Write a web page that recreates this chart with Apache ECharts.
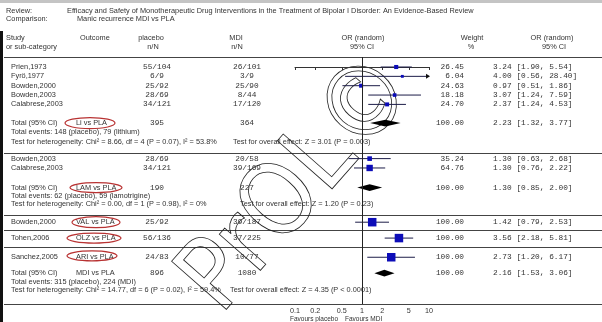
<!DOCTYPE html>
<html>
<head>
<meta charset="utf-8">
<script src="https://cdn.jsdelivr.net/npm/echarts@6/dist/echarts.min.js"></script>
<style>
  html, body { margin: 0; padding: 0; background: #fff; }
  #chart { width: 602px; height: 322px; }
</style>
</head>
<body>
<div id="chart"></div>
<script>
// studies, in plot order
const studyNames = ['Prien,1973', 'Fyrö,1977', 'Bowden,2000', 'Bowden,2003', 'Calabrese,2003',
  'Bowden,2003', 'Calabrese,2003', 'Bowden,2000', 'Tohen,2006', 'Sanchez,2005']
const studyOutcome = ['', '', '', '', '', '', '', 'VAL vs PLA', 'OLZ vs PLA', 'ARI vs PLA']
const placeboNN = ['55/104', '6/9', '25/92', '28/69', '34/121', '28/69', '34/121', '25/92', '56/136', '24/83']
const mdiNN = ['26/101', '3/9', '25/90', '8/44', '17/120', '20/58', '39/169', '39/187', '37/225', '10/77']
const studyOR = [3.24, 4.00, 0.97, 3.07, 2.37, 1.30, 1.30, 1.42, 3.56, 2.73]
const studyLo = [1.90, 0.56, 0.51, 1.24, 1.24, 0.63, 0.76, 0.79, 2.18, 1.20]
const studyHi = [5.54, 28.40, 1.86, 7.59, 4.53, 2.68, 2.22, 2.53, 5.81, 6.17]
const studyWeight = [26.45, 6.04, 24.63, 18.18, 24.70, 35.24, 64.76, 100.00, 100.00, 100.00]

// pooled results
const totalOutcome = ['Li vs PLA', 'LAM vs PLA', 'MDI vs PLA']
const totalPlaceboN = [395, 190, 896]
const totalMdiN = [364, 227, 1080]
const totalOR = [2.23, 1.30, 2.16]
const totalLo = [1.32, 0.85, 1.53]
const totalHi = [3.77, 2.00, 3.06]
const totalEvents = [
  'Total events: 148 (placebo), 79 (lithium)',
  'Total events: 62 (placebo), 59 (lamotrigine)',
  'Total events: 315 (placebo), 224 (MDI)'
]
const hetText = [
  'Test for heterogeneity: Chi² = 8.66, df = 4 (P = 0.07), I² = 53.8%',
  'Test for heterogeneity: Chi² = 0.00, df = 1 (P = 0.98), I² = 0%',
  'Test for heterogeneity: Chi² = 14.77, df = 6 (P = 0.02), I² = 59.4%'
]
const effectText = [
  'Test for overall effect: Z = 3.01 (P = 0.003)',
  'Test for overall effect: Z = 1.20 (P = 0.23)',
  'Test for overall effect: Z = 4.35 (P < 0.0001)'
]

const tickValues = [0.1, 0.2, 0.5, 1, 2, 5, 10]
const tickLabels = ['0.1', '0.2', '0.5', '1', '2', '5', '10']

// row slots (layout)
const studyRows = [0, 1, 2, 3, 4, 9.8, 10.8, 16.6, 18.3, 20.35]
const totalRows = [6, 12.9, 22.05]
const eventRows = [7, 13.8, 23]
const hetRows = [8, 14.6, 23.85]
const sepRows = [-1.07, 9.2, 15.83, 17.43, 19.25, 25.35]
const effectX = [233, 240, 230]

const SANS = 'Liberation Sans'
const MONO = 'Liberation Mono'
const INK = '#333'

const lg = (v) => +Math.log10(v).toFixed(6)

const chart = echarts.init(document.getElementById('chart'))

function renderStudy(params, api) {
  const or = api.value(0)
  const lo = api.value(1)
  const hi = api.value(2)
  const w = api.value(3)
  const row = api.value(4)
  const p0 = api.coord([Math.max(lg(lo), -1), row])
  const p1 = api.coord([Math.min(lg(hi), 1), row])
  const pc = api.coord([lg(or), row])
  const s = 2.5 + w * 0.06
  const children = [
    { type: 'line', shape: { x1: p0[0], y1: p0[1], x2: p1[0], y2: p1[1] }, style: { stroke: '#1c1c48', lineWidth: 1 } },
    { type: 'rect', shape: { x: pc[0] - s / 2, y: pc[1] - s / 2, width: s, height: s }, style: { fill: '#0c0cb8' } }
  ]
  if (lg(hi) > 1) {
    children.push({
      type: 'polygon',
      shape: { points: [[p1[0] + 1, p1[1]], [p1[0] - 3, p1[1] - 2.5], [p1[0] - 3, p1[1] + 2.5]] },
      style: { fill: '#111' }
    })
  }
  return { type: 'group', children }
}

function renderDiamond(params, api) {
  const row = api.value(3)
  const c = api.coord([lg(api.value(0)), row])
  const l = api.coord([lg(api.value(1)), row])
  const h = api.coord([lg(api.value(2)), row])
  return {
    type: 'polygon',
    shape: { points: [[l[0], c[1]], [c[0], c[1] - 3.4], [h[0], c[1]], [c[0], c[1] + 3.4]] },
    style: { fill: '#000' }
  }
}

chart.setOption({
  animation: false,
  backgroundColor: '#fff',
  grid: { left: 295, right: 173, top: 57, height: 247 },
  xAxis: {
    type: 'value',
    min: -1,
    max: 1,
    axisLine: { show: true, lineStyle: { color: INK, width: 1 } },
    axisTick: { show: true, customValues: tickValues.map(lg), length: 3, lineStyle: { color: INK } },
    axisLabel: {
      customValues: tickValues.map(lg),
      formatter: (v) => {
        let best = 0
        tickValues.forEach((t, i) => {
          if (Math.abs(lg(t) - v) < Math.abs(lg(tickValues[best]) - v)) best = i
        })
        return tickLabels[best]
      },
      fontSize: 7.2,
      fontFamily: SANS,
      color: INK,
      margin: 4
    },
    splitLine: { show: false }
  },
  yAxis: { type: 'value', inverse: true, min: -1.07, max: 25.35, show: false },
  series: [
    {
      type: 'custom',
      renderItem: renderStudy,
      encode: { x: 0, y: 4 },
      data: studyOR.map((v, i) => [v, studyLo[i], studyHi[i], studyWeight[i], studyRows[i]]),
      markLine: {
        silent: true,
        symbol: 'none',
        label: { show: false },
        lineStyle: { color: '#222', width: 1, type: 'solid' },
        data: [{ xAxis: 0 }]
      }
    },
    {
      type: 'custom',
      renderItem: renderDiamond,
      encode: { x: 0, y: 3 },
      data: totalOR.map((v, i) => [v, totalLo[i], totalHi[i], totalRows[i]])
    }
  ]
})

// table text, placed on the same row scale as the marks
const py = (r) => chart.convertToPixel({ yAxisIndex: 0 }, r)
const g = []

function txt(text, x, y, opt) {
  const o = opt || {}
  const align = o.align || 'left'
  g.push({
    type: 'text',
    silent: true,
    style: {
      text: text, x: x, y: y,
      fill: o.color || INK,
      font: (o.size || 7.35) + 'px "' + (o.family || SANS) + '"',
      align: align, textAlign: align,
      verticalAlign: 'middle', textVerticalAlign: 'middle'
    }
  })
}
function hline(y, color) {
  g.push({ type: 'line', silent: true, shape: { x1: 4, y1: y, x2: 602, y2: y }, style: { stroke: color || '#444', lineWidth: 1 } })
}

// frame bits of the scan
g.push({ type: 'rect', silent: true, shape: { x: 0, y: 0, width: 602, height: 3 }, style: { fill: '#c4c4c4' } })
g.push({ type: 'rect', silent: true, shape: { x: 0, y: 31, width: 3, height: 291 }, style: { fill: '#111' } })

// header
txt('Review:', 6, 11)
txt('Efficacy and Safety of Monotherapeutic Drug Interventions in the Treatment of Bipolar I Disorder: An Evidence-Based Review', 67, 11)
txt('Comparison:', 6, 19)
txt('Manic recurrence MDI vs PLA', 77, 19)
txt('Study', 6, 38)
txt('or sub-category', 6, 47)
txt('Outcome', 80, 38)
txt('placebo', 151, 38, { align: 'center' })
txt('n/N', 153, 47, { align: 'center' })
txt('MDI', 236, 38, { align: 'center' })
txt('n/N', 237, 47, { align: 'center' })
txt('OR (random)', 363, 38, { align: 'center' })
txt('95% CI', 362, 47, { align: 'center' })
txt('Weight', 472, 38, { align: 'center' })
txt('%', 471, 47, { align: 'center' })
txt('OR (random)', 552, 38, { align: 'center' })
txt('95% CI', 554, 47, { align: 'center' })

sepRows.forEach((r) => hline(Math.round(py(r)) + 0.5))

const ci = (o, l, h) => o.toFixed(2) + ' [' + l.toFixed(2) + ', ' + h.toFixed(2) + ']'

studyNames.forEach((name, i) => {
  const y = py(studyRows[i])
  txt(name, 11, y)
  if (studyOutcome[i]) txt(studyOutcome[i], 76, y)
  txt(placeboNN[i], 157, y, { align: 'center', family: MONO, size: 7.8 })
  txt(mdiNN[i], 247, y, { align: 'center', family: MONO, size: 7.8 })
  txt(studyWeight[i].toFixed(2), 464, y, { align: 'right', family: MONO, size: 7.8 })
  txt(ci(studyOR[i], studyLo[i], studyHi[i]), 493, y, { family: MONO, size: 7.8 })
})

totalOutcome.forEach((label, i) => {
  const y = py(totalRows[i])
  txt('Total (95% CI)', 11, y)
  txt(label, 76, y)
  txt(String(totalPlaceboN[i]), 157, y, { align: 'center', family: MONO, size: 7.8 })
  txt(String(totalMdiN[i]), 247, y, { align: 'center', family: MONO, size: 7.8 })
  txt('100.00', 464, y, { align: 'right', family: MONO, size: 7.8 })
  txt(ci(totalOR[i], totalLo[i], totalHi[i]), 493, y, { family: MONO, size: 7.8 })
  txt(totalEvents[i], 11, py(eventRows[i]))
  txt(hetText[i], 11, py(hetRows[i]))
  txt(effectText[i], effectX[i], py(hetRows[i]))
})

txt('Favours placebo', 338, 319, { align: 'right', size: 6.5 })
txt('Favours MDI', 345, 319, { size: 6.5 })

// red hand-drawn circles round the comparisons
const rings = [
  [90, totalRows[0], 25, 5.5],
  [96, totalRows[1], 26, 5],
  [96, studyRows[7], 24, 5.5],
  [94, studyRows[8], 27, 5],
  [92, studyRows[9] - 0.15, 25, 5]
]
rings.forEach(([cx, r, rx, ry]) => {
  g.push({ type: 'ellipse', silent: true, shape: { cx: cx, cy: py(r), rx: rx, ry: ry }, style: { fill: 'none', stroke: '#b83232', lineWidth: 1.2 } })
})

// outline watermark
g.push({
  type: 'text',
  silent: true,
  x: 300, y: 186,
  rotation: 0.85,
  style: {
    text: 'PrOL©', x: 0, y: 0,
    font: '100px "DejaVu Sans Condensed", "DejaVu Sans"',
    fill: 'none', stroke: '#222', lineWidth: 0.8,
    align: 'center', textAlign: 'center',
    verticalAlign: 'middle', textVerticalAlign: 'middle'
  }
})

chart.setOption({ graphic: { elements: g } })
</script>
</body>
</html>
